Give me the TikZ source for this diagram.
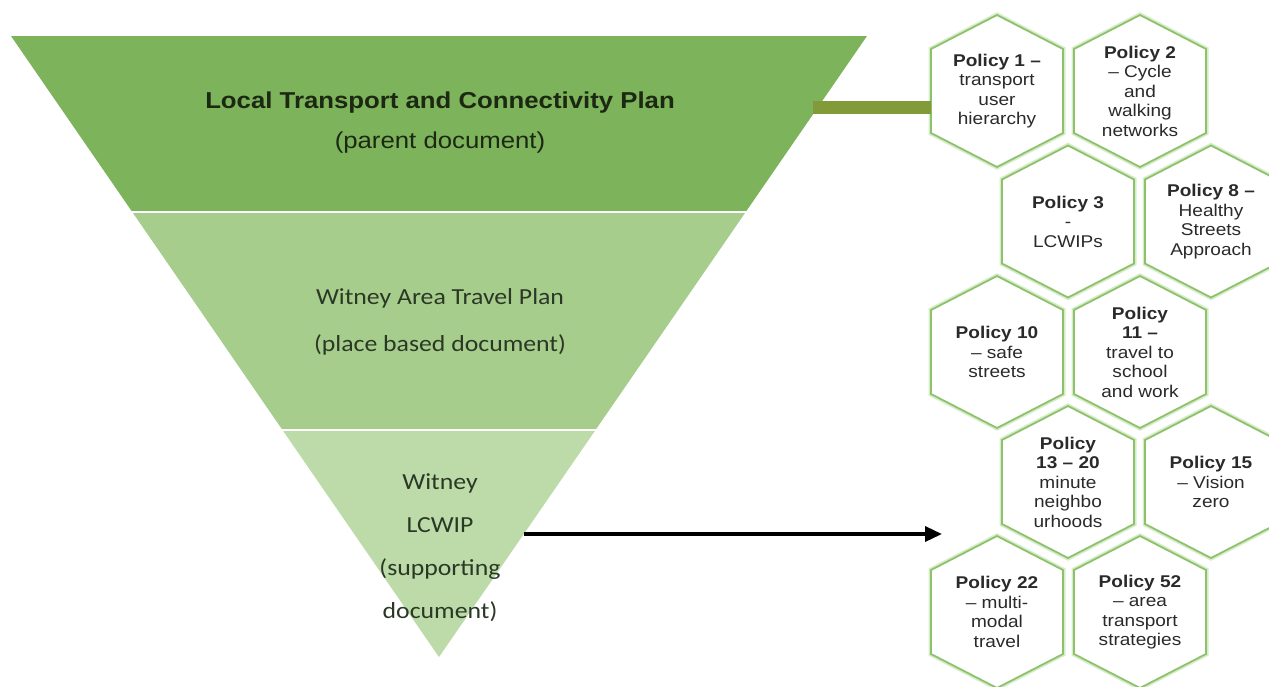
\documentclass[tikz,border=0pt]{standalone}
\usepackage{fontspec}
\setmainfont{Liberation Sans}[FakeStretch=1.12]
\newfontfamily\calfont{Carlito}[FakeStretch=1.12]
\usetikzlibrary{arrows.meta}
\definecolor{bandA}{HTML}{7DB35B}
\definecolor{bandB}{HTML}{A6CD8C}
\definecolor{bandC}{HTML}{BCDBA8}
\definecolor{barcol}{HTML}{829A37}
\definecolor{hexcol}{HTML}{8DC26B}
\definecolor{hexhalo}{HTML}{D8ECCB}
\definecolor{titlecol}{HTML}{1C2812}
\definecolor{subcol}{HTML}{2B3826}
\definecolor{hextextcol}{HTML}{2A2A2A}
\tikzset{
  hexline/.style={draw=hexcol, line width=1.8pt, fill=white, line join=miter,
    preaction={draw=hexhalo, line width=5pt}},
  hextext/.style={align=center, inner sep=0pt, text=hextextcol,
    font=\fontsize{17}{19.5}\selectfont},
  titletext/.style={inner sep=0pt, text=titlecol, font=\fontsize{23}{27}\selectfont},
  subtext/.style={inner sep=0pt, align=center, text=subcol},
  barline/.style={draw=barcol, line width=13pt},
  arrowline/.style={draw=black, line width=3.5pt, -{Triangle[length=17pt,width=15pt]}}
}
\newcommand{\hexcell}[4]{%
  \draw[hexline, shift={(#2,#3)}] (0,-76) -- (66,-42) -- (66,42) -- (0,76) -- (-66,42) -- (-66,-42) -- cycle;
  \node[hextext] (#1) at (#2,#3) {#4};
}
\begin{document}
\begin{tikzpicture}[x=1pt,y=-1pt]
\useasboundingbox (0,0) rectangle (1269,686);
\clip (0,0) rectangle (1269,686);
\fill[white] (0,0) rectangle (1269,686);
% triangle bands
\fill[bandA] (11,36) -- (867,36) -- (745.7,212) -- (132.3,212) -- cycle;
\fill[bandB] (132.3,212) -- (745.7,212) -- (595.5,430) -- (282.5,430) -- cycle;
\fill[bandC] (282.5,430) -- (595.5,430) -- (439,657) -- cycle;
\draw[white, line width=2pt] (130,212) -- (748,212);
\draw[white, line width=2pt] (280,430) -- (598,430);
% triangle texts
\node[titletext] (ltcp) at (440,103) {\textbf{Local Transport and Connectivity Plan}};
\node[titletext] (ltcpsub) at (440,143) {(parent document)};
\node[subtext, font=\calfont\fontsize{23}{47}\selectfont] (watp) at (440,322)
  {Witney Area Travel Plan\\(place based document)};
\node[subtext, font=\calfont\fontsize{23}{43}\selectfont] (lcwip) at (440,548)
  {Witney\\LCWIP\\(supporting\\document)};
% hexagons
\hexcell{h1}{997}{91}{\textbf{Policy 1 –}\\transport\\user\\hierarchy}
\hexcell{h2}{1140}{91}{\textbf{Policy 2}\\– Cycle\\and\\walking\\networks}
\hexcell{h3}{1068}{221.5}{\textbf{Policy 3}\\-\\LCWIPs}
\hexcell{h8}{1211}{221.5}{\textbf{Policy 8 –}\\Healthy\\Streets\\Approach}
\hexcell{h10}{997}{352}{\textbf{Policy 10}\\– safe\\streets}
\hexcell{h11}{1140}{352}{\textbf{Policy}\\\textbf{11 –}\\travel to\\school\\and work}
\hexcell{h13}{1068}{482}{\textbf{Policy}\\\textbf{13 – 20}\\minute\\neighbo\\urhoods}
\hexcell{h15}{1211}{482}{\textbf{Policy 15}\\– Vision\\zero}
\hexcell{h22}{997}{612}{\textbf{Policy 22}\\– multi-\\modal\\travel}
\hexcell{h52}{1140}{612}{\textbf{Policy 52}\\– area\\transport\\strategies}
% connectors
\coordinate (barS) at (813,107.5);
\coordinate (barE) at (931,107.5);
\draw[barline] (barS) -- (barE);
\coordinate (arrS) at (524,534);
\coordinate (arrE) at (942,534);
\draw[arrowline] (arrS) -- (arrE);
\end{tikzpicture}
\end{document}
